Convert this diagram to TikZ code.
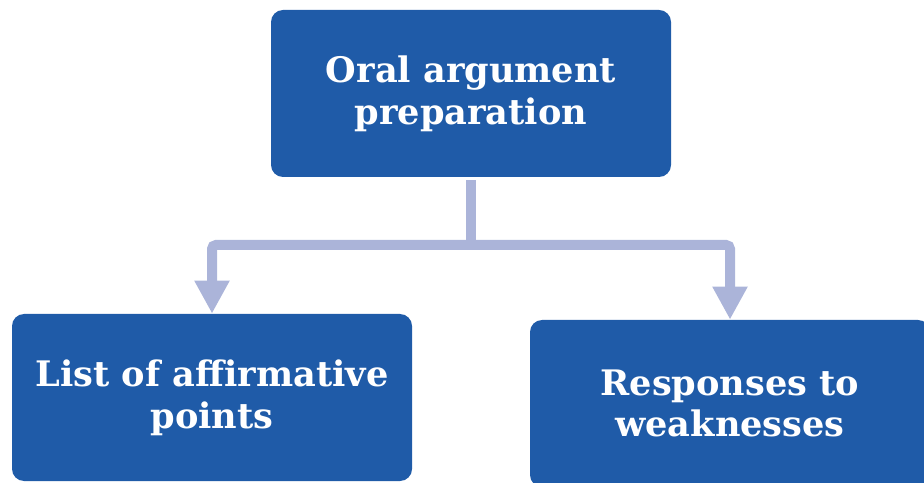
\documentclass[tikz,border=0pt]{standalone}
\usepackage{fontspec}
\setmainfont{DejaVu Serif}
\usetikzlibrary{arrows.meta}

\definecolor{boxblue}{HTML}{1F5BA8}
\definecolor{linkblue}{HTML}{ABB4D9}

\begin{document}
\begin{tikzpicture}[>={Triangle[width=0.66cm,length=0.66cm]}]
	\useasboundingbox (0,0) rectangle (18.48,9.64);
	\tikzset{
		box/.style={fill=boxblue, rounded corners=0.24cm, minimum width=8cm, minimum height=3.34cm,
			text=white, align=center, font=\bfseries\fontsize{20}{23.8}\selectfont},
		link/.style={draw=linkblue, line width=0.2cm, rounded corners=0.08cm}
	}
	
	%boxes
	\node[box] (prep)  at (9.42,7.77) {Oral argument\\preparation};
	\node[box] (list)  at (4.24,1.69) {List of affirmative\\points};
	\node[box] (resp)  at (14.6,1.57) {Responses to\\weaknesses};
	
	%connectors
	\coordinate (split) at (9.42,4.74);
	\draw[link] ([yshift=-0.06cm]prep.south) -- (split);
	\draw[link,->] (split) -| (list.north);
	\draw[link,->] (split) -| (resp.north);
\end{tikzpicture}
\end{document}
